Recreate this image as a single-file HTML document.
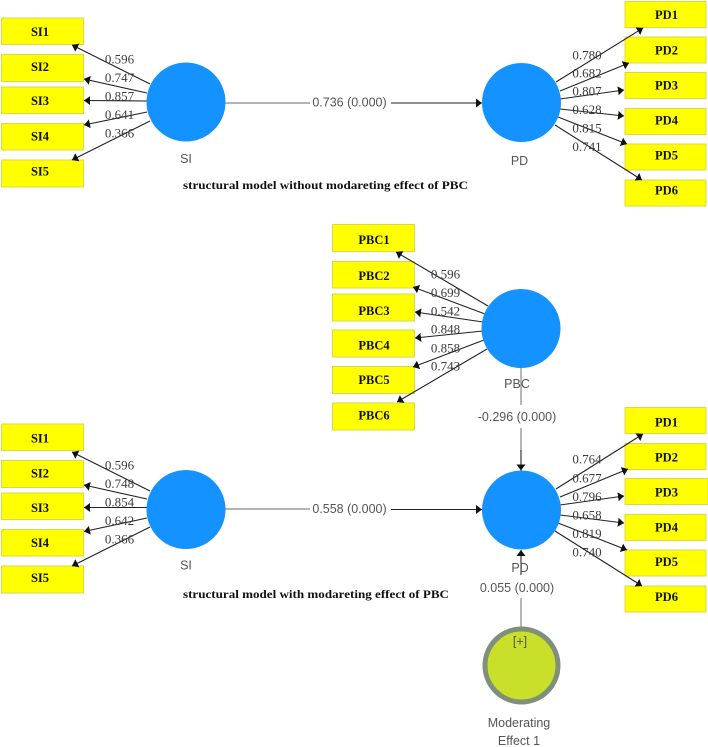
<!DOCTYPE html>
<html><head><meta charset="utf-8"><style>
html,body{margin:0;padding:0;background:#fff}
svg{display:block}
.r{fill:#ffff00;stroke:#d8d84a;stroke-width:1}
.n{font:bold 12.5px "Liberation Serif",serif;fill:#111;text-anchor:middle;dominant-baseline:central}
.v{font:13px "Liberation Serif",serif;fill:#3c3c3c;text-anchor:middle;dominant-baseline:central}
.s{font:12.5px "Liberation Sans",sans-serif;fill:#555;text-anchor:middle;dominant-baseline:central}
.c{font:bold 11.5px "Liberation Serif",serif;fill:#111;dominant-baseline:central}
.l{stroke:#222;stroke-width:1.1;fill:none;marker-end:url(#a)}
.g{stroke:#888;stroke-width:1.2;fill:none}
.b{fill:#1492ff}
</style></head><body>
<svg width="708" height="747" viewBox="0 0 708 747" xmlns="http://www.w3.org/2000/svg">
<defs><marker id="a" markerUnits="userSpaceOnUse" markerWidth="8" markerHeight="10" refX="6" refY="5" orient="auto"><path d="M0 0.5L6 5L0 9.5Z" fill="#111"/></marker></defs>

<!-- Top SI -->
<rect class="r" x="1.5" y="18" width="82" height="26.5"/><text class="n" x="40" y="32">SI1</text>
<rect class="r" x="1.5" y="54.5" width="82" height="27"/><text class="n" x="40" y="67">SI2</text>
<rect class="r" x="1.5" y="87" width="82" height="26.5"/><text class="n" x="40" y="101">SI3</text>
<rect class="r" x="1.5" y="123.5" width="82" height="26.5"/><text class="n" x="40" y="136.5">SI4</text>
<rect class="r" x="1.5" y="160" width="82" height="27"/><text class="n" x="40" y="171.5">SI5</text>
<path class="l" d="M150 84L72 45"/><path class="l" d="M147 93L84 79"/><path class="l" d="M147 101L84 100.5"/><path class="l" d="M147 112L84 125"/><path class="l" d="M150 121L72 160"/>
<circle class="b" cx="186" cy="102" r="39.5"/>
<text class="v" x="119.5" y="59">0.596</text><text class="v" x="119.5" y="77.5">0.747</text><text class="v" x="119.5" y="96">0.857</text><text class="v" x="119.5" y="114.5">0.641</text><text class="v" x="119.5" y="133">0.366</text>
<text class="s" x="186" y="159">SI</text>

<!-- Top path -->
<path class="g" d="M225 103L310 103"/><path class="l" d="M391 103L482 103"/>
<text class="s" x="349.5" y="102.5">0.736 (0.000)</text>

<!-- Top PD -->
<rect class="r" x="625" y="1.5" width="81" height="26"/><text class="n" x="666.5" y="15">PD1</text>
<rect class="r" x="625" y="37" width="81" height="26"/><text class="n" x="666.5" y="50.5">PD2</text>
<rect class="r" x="625" y="72.5" width="81" height="26"/><text class="n" x="666.5" y="85.5">PD3</text>
<rect class="r" x="625" y="108.5" width="81" height="26"/><text class="n" x="666.5" y="120.5">PD4</text>
<rect class="r" x="625" y="144" width="81" height="26"/><text class="n" x="666.5" y="155.5">PD5</text>
<rect class="r" x="625" y="180" width="81" height="26"/><text class="n" x="666.5" y="190.5">PD6</text>
<path class="l" d="M556 82L643 28"/><path class="l" d="M560 91L629 63"/><path class="l" d="M560 99L624 90"/><path class="l" d="M560 109L624 116"/><path class="l" d="M558 117L627 144"/><path class="l" d="M555 125L642 180"/>
<circle class="b" cx="521.5" cy="102.5" r="39.5"/>
<text class="v" x="587" y="55">0.780</text><text class="v" x="587" y="73">0.682</text><text class="v" x="587" y="91">0.807</text><text class="v" x="587" y="109.5">0.628</text><text class="v" x="587" y="128">0.815</text><text class="v" x="587" y="146.5">0.741</text>
<text class="s" x="519.5" y="161">PD</text>

<text class="c" x="183" y="186" textLength="285" lengthAdjust="spacingAndGlyphs">structural model without modareting effect of PBC</text>

<!-- PBC -->
<rect class="r" x="332.5" y="224.5" width="82" height="27"/><text class="n" x="374" y="240">PBC1</text>
<rect class="r" x="332.5" y="261.5" width="82" height="26.5"/><text class="n" x="374" y="276">PBC2</text>
<rect class="r" x="332.5" y="294" width="82" height="27"/><text class="n" x="374" y="311">PBC3</text>
<rect class="r" x="332.5" y="330" width="82" height="27"/><text class="n" x="374" y="345.5">PBC4</text>
<rect class="r" x="332.5" y="366.5" width="82" height="27"/><text class="n" x="374" y="380">PBC5</text>
<rect class="r" x="332.5" y="403" width="82" height="27"/><text class="n" x="374" y="415.5">PBC6</text>
<path class="l" d="M488 306L396 252"/><path class="l" d="M485 314L413 287"/><path class="l" d="M483 322L415 312"/><path class="l" d="M483 331L415 338"/><path class="l" d="M484 340L413 367"/><path class="l" d="M487 349L397 402"/>
<circle class="b" cx="521" cy="328.5" r="39.5"/>
<text class="v" x="445.5" y="274">0.596</text><text class="v" x="445.5" y="292.5">0.699</text><text class="v" x="445.5" y="311">0.542</text><text class="v" x="445.5" y="329">0.848</text><text class="v" x="445.5" y="348">0.858</text><text class="v" x="445.5" y="366">0.743</text>
<path class="g" d="M521 368L521 405"/>
<text class="s" x="517" y="384">PBC</text>
<text class="s" x="517" y="417">-0.296 (0.000)</text>
<path class="g" d="M521 428L521 452"/><path class="l" d="M521 450L521 470.5"/>

<!-- Bottom SI -->
<rect class="r" x="1.5" y="424" width="82" height="26.5"/><text class="n" x="40" y="438.5">SI1</text>
<rect class="r" x="1.5" y="460.5" width="82" height="27"/><text class="n" x="40" y="473.5">SI2</text>
<rect class="r" x="1.5" y="493" width="82" height="26.5"/><text class="n" x="40" y="508">SI3</text>
<rect class="r" x="1.5" y="529.5" width="82" height="26.5"/><text class="n" x="40" y="543">SI4</text>
<rect class="r" x="1.5" y="566" width="82" height="27"/><text class="n" x="40" y="578">SI5</text>
<path class="l" d="M150 491L72 452"/><path class="l" d="M147 499L84 485"/><path class="l" d="M147 507.5L84 507.5"/><path class="l" d="M147 518L84 531.5"/><path class="l" d="M150 527L72 566"/>
<circle class="b" cx="186" cy="509.5" r="39.5"/>
<text class="v" x="119.5" y="465">0.596</text><text class="v" x="119.5" y="483.5">0.748</text><text class="v" x="119.5" y="502">0.854</text><text class="v" x="119.5" y="520.5">0.642</text><text class="v" x="119.5" y="539">0.366</text>
<text class="s" x="186" y="565.5">SI</text>

<!-- Bottom path -->
<path class="g" d="M225 509L310 509"/><path class="l" d="M391 509.5L482 509.5"/>
<text class="s" x="349.5" y="509">0.558 (0.000)</text>

<!-- Bottom PD -->
<rect class="r" x="625" y="407.5" width="81" height="26"/><text class="n" x="666.5" y="422.5">PD1</text>
<rect class="r" x="625" y="443.5" width="81" height="26"/><text class="n" x="666.5" y="457.5">PD2</text>
<rect class="r" x="625" y="478.5" width="83" height="26"/><text class="n" x="666.5" y="492.5">PD3</text>
<rect class="r" x="625" y="514.5" width="81" height="26"/><text class="n" x="666.5" y="527.5">PD4</text>
<rect class="r" x="625" y="550" width="81" height="26"/><text class="n" x="666.5" y="562">PD5</text>
<rect class="r" x="625" y="586" width="81" height="26"/><text class="n" x="666.5" y="597">PD6</text>
<path class="l" d="M556 489L643 434"/><path class="l" d="M560 497L628 469"/><path class="l" d="M560 505L624 496"/><path class="l" d="M560 515L624 523"/><path class="l" d="M558 523L627 550"/><path class="l" d="M555 531L642 586"/>
<circle class="b" cx="521.5" cy="510" r="39.5"/>
<text class="v" x="587" y="459">0.764</text><text class="v" x="587" y="478">0.677</text><text class="v" x="587" y="496.5">0.796</text><text class="v" x="587" y="515">0.658</text><text class="v" x="587" y="533.5">0.819</text><text class="v" x="587" y="552">0.740</text>

<path class="l" d="M521 575L521 550"/>
<text class="s" x="520" y="568">PD</text>
<text class="s" x="517" y="588">0.055 (0.000)</text>
<path class="g" d="M521 598L521 627"/>

<circle cx="521.5" cy="665.5" r="36.5" fill="#c8e02a" stroke="#7f8f7a" stroke-width="5"/>
<text class="s" x="520" y="641.5">[+]</text>
<text class="s" x="519" y="723">Moderating</text>
<text class="s" x="519" y="741">Effect 1</text>

<text class="c" x="183" y="595" textLength="266" lengthAdjust="spacingAndGlyphs">structural model with modareting effect of PBC</text>
</svg>
</body></html>
